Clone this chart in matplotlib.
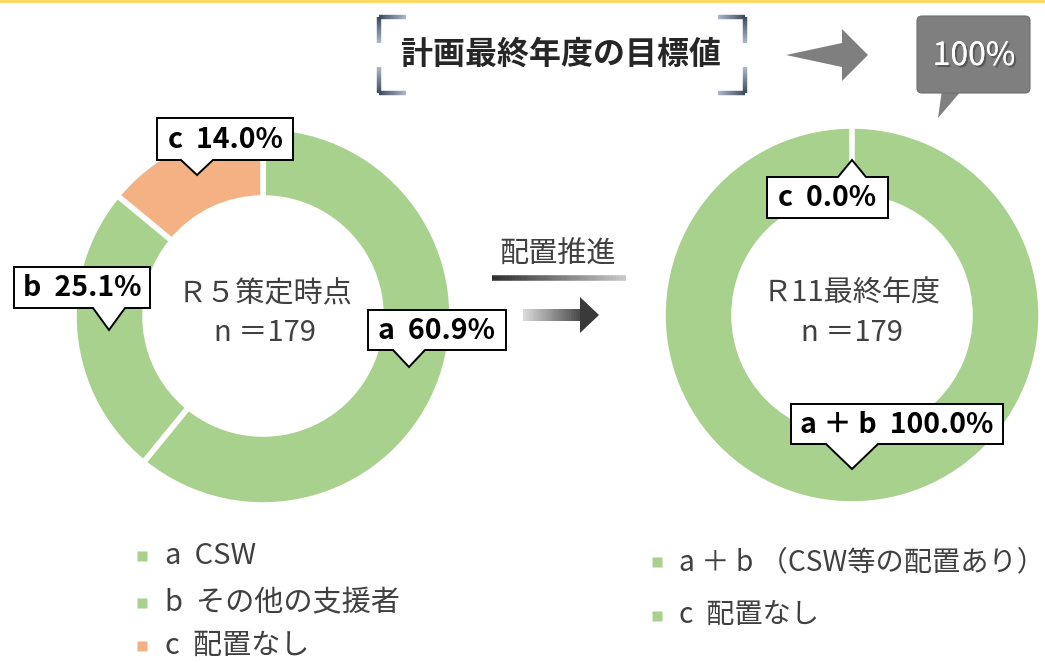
import numpy as np
import matplotlib
matplotlib.use("Agg")
import matplotlib.pyplot as plt
from matplotlib.patches import Polygon, FancyBboxPatch, Rectangle
from matplotlib.collections import LineCollection
from matplotlib.colors import to_rgb
import matplotlib.patheffects as pe

plt.rcParams["font.family"] = ["Noto Sans CJK JP", "DejaVu Sans"]

# ── data ─────────────────────────────────────────────
left_labels = ["a", "b", "c"]
left_values = [60.9, 25.1, 14.0]
left_colors = ["#A9D18E", "#A9D18E", "#F4B183"]
left_title = "Ｒ５策定時点"

right_labels = ["a ＋ b", "c"]
right_values = [100.0, 0.0]
right_colors = ["#A9D18E", "#A9D18E"]
right_title = "Ｒ11最終年度"

n_total = 179
target_text = "100%"
headline = "計画最終年度の目標値"
mid_text = "配置推進"

left_legend = ["a  CSW", "b  その他の支援者", "c  配置なし"]
left_legend_colors = ["#A9D18E", "#A9D18E", "#F4B183"]
right_legend = ["a ＋ b （CSW等の配置あり）", "c  配置なし"]
right_legend_colors = ["#A9D18E", "#A9D18E"]

TXT = "#404040"

fig = plt.figure(figsize=(10.45, 6.63), dpi=100)
ax = fig.add_axes([0, 0, 1, 1])


def donut(values, colors, center):
    ax.pie(values, colors=colors, radius=189, center=center,
           startangle=-90, counterclock=True,
           wedgeprops=dict(width=71, edgecolor="white", linewidth=4))


donut(left_values, left_colors, (263, 316))
donut(right_values, right_colors, (852, 315))


def callout(box, tip, hw, text, up=False, fs=20.5):
    x0, y0, x1, y1 = box
    tx, ty = tip
    if up:
        pts = [(x0, y1), (x1, y1), (x1, y0), (tx + hw, y0), (tx, ty),
               (tx - hw, y0), (x0, y0)]
    else:
        pts = [(x0, y0), (x1, y0), (x1, y1), (tx + hw, y1), (tx, ty),
               (tx - hw, y1), (x0, y1)]
    ax.add_patch(Polygon(pts, closed=True, fc="white", ec="black", lw=1.4,
                         zorder=5))
    ax.text((x0 + x1) / 2, (y0 + y1) / 2 + 1, text, ha="center", va="center",
            fontsize=fs, fontweight="bold", color="black", zorder=6)


# callout boxes (layout only)
left_boxes = {"a": ((368, 310, 506, 350), (409, 367), 16, False),
              "b": ((14, 267, 150, 308), (109, 330), 16, False),
              "c": ((157, 118, 293, 160), (197, 175), 16, False)}
right_boxes = {"a ＋ b": ((791, 404, 1003, 444), (852, 469), 26, False),
               "c": ((767, 177, 888, 218), (852, 160), 14, True)}

for lab, v in zip(left_labels, left_values):
    box, tip, hw, up = left_boxes[lab]
    callout(box, tip, hw, f"{lab}  {v:.1f}%", up)
for lab, v in zip(right_labels, right_values):
    box, tip, hw, up = right_boxes[lab]
    callout(box, tip, hw, f"{lab}  {v:.1f}%", up)

# centre texts
for cx, title in [(265, left_title), (852, right_title)]:
    ax.text(cx, 294, title, ha="center", va="center", fontsize=21, color=TXT)
    ax.text(cx, 333, f"n ＝{n_total}", ha="center", va="center", fontsize=21,
            color=TXT)

# top yellow rule
ax.add_patch(Rectangle((0, 0), 1045, 3, fc="#FFD966", ec="none"))

# headline with gradient brackets
ax.text(561, 55, headline, ha="center", va="center", fontsize=23,
        fontweight="bold", color="#262626")


def grad_line(p0, p1, c0, c1, lw, k=40):
    xs = np.linspace(p0[0], p1[0], k + 1)
    ys = np.linspace(p0[1], p1[1], k + 1)
    segs = [[(xs[i], ys[i]), (xs[i + 1], ys[i + 1])] for i in range(k)]
    a, b = np.array(to_rgb(c0)), np.array(to_rgb(c1))
    cols = [a + (b - a) * t for t in np.linspace(0, 1, k)]
    ax.add_collection(LineCollection(segs, colors=cols, linewidths=lw,
                                     capstyle="butt"))


dark, light = "#3E4A60", "#AEB7C7"
for cx, sx in [(379, 1), (745, -1)]:
    for cy, sy in [(17, 1), (93, -1)]:
        grad_line((cx, cy), (cx + sx * 27, cy), dark, light, 3.2)
        grad_line((cx, cy), (cx, cy + sy * 26), dark, light, 3.2)

# grey arrow to target
ax.add_patch(Polygon([(786, 55), (842, 43), (842, 29), (868, 55),
                      (842, 81), (842, 67)], closed=True,
                     fc="#7F7F7F", ec="none"))

# target bubble
ax.add_patch(Polygon([(942, 90), (962, 90), (938, 118)], closed=True,
                     fc="#7F7F7F", ec="none"))
ax.add_patch(FancyBboxPatch((917, 16), 113, 77,
                            boxstyle="round,pad=0,rounding_size=5",
                            fc="#7F7F7F", ec="#6F6F6F", lw=0.8))
ax.text(974, 56, target_text, ha="center", va="center", fontsize=23,
        color="white",
        path_effects=[pe.withSimplePatchShadow(offset=(1.5, -1.5),
                                               shadow_rgbFace="#333333",
                                               alpha=0.5), pe.Normal()])

# middle "配置推進" with gradient underline and arrow
ax.text(558, 255, mid_text, ha="center", va="center", fontsize=21, color=TXT)
grad_line((492, 278), (626, 278), "#303030", "#C8C8C8", 4)
for i in range(30):
    t = i / 29
    g = 0.85 - 0.55 * t
    ax.add_patch(Rectangle((523 + i * 57 / 30, 309), 57 / 30 + 0.3, 12,
                           fc=(g, g, g), ec="none"))
ax.add_patch(Polygon([(580, 297), (599, 315), (580, 333)], closed=True,
                     fc="#3A3A3A", ec="none"))

# legends
for i, (lab, col) in enumerate(zip(left_legend, left_legend_colors)):
    y = [556, 603, 646][i]
    ax.plot(142, y, marker="s", ms=7, color=col, mec="none")
    ax.text(165, y, lab, ha="left", va="center", fontsize=21, color=TXT)
for i, (lab, col) in enumerate(zip(right_legend, right_legend_colors)):
    y = [562, 616][i]
    ax.plot(657, y, marker="s", ms=7, color=col, mec="none")
    ax.text(679, y, lab, ha="left", va="center", fontsize=20.3, color=TXT)

ax.set_xlim(0, 1045)
ax.set_ylim(663, 0)
ax.set_aspect("auto")
ax.axis("off")

fig.savefig("out.png", dpi=100)
plt.close(fig)
